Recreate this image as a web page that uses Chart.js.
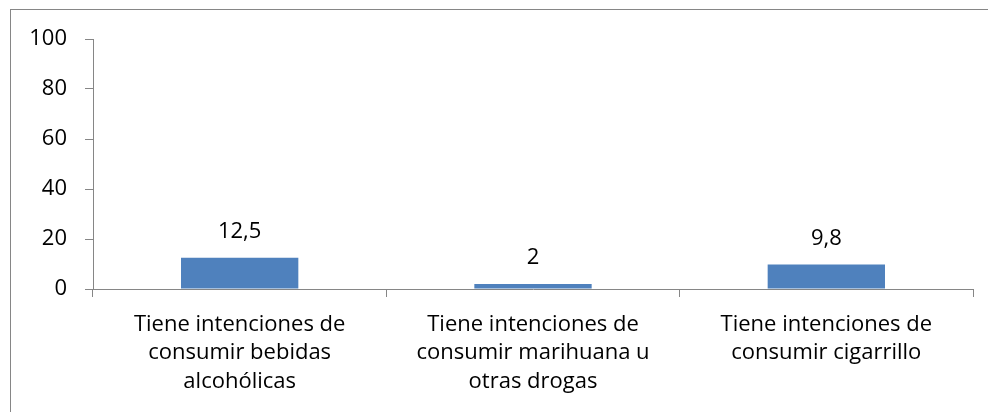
<!DOCTYPE html>
<html>
<head>
<meta charset="utf-8">
<script src="https://cdn.jsdelivr.net/npm/chart.js@4/dist/chart.umd.min.js"></script>
<style>
  html, body { margin: 0; padding: 0; background: #ffffff; }
  #wrap { position: relative; width: 988px; height: 412px; }
</style>
</head>
<body>
<div id="wrap"><canvas id="c" width="988" height="412"></canvas></div>
<script>
const categories = [
  ["Tiene intenciones de", "consumir bebidas", "alcohólicas"],
  ["Tiene intenciones de", "consumir marihuana u", "otras drogas"],
  ["Tiene intenciones de", "consumir cigarrillo"]
];
const values = [12.5, 2, 9.8];
const valueLabels = ["12,5", "2", "9,8"];
const yTicks = [0, 20, 40, 60, 80, 100];

const FONT = "'Open Sans', sans-serif";
const AXIS_COLOR = '#868686';

const outerBorder = {
  id: 'outerBorder',
  afterDraw(chart) {
    const ctx = chart.ctx;
    ctx.save();
    ctx.strokeStyle = AXIS_COLOR;
    ctx.lineWidth = 1;
    ctx.strokeRect(10.5, 9.5, 1000, 500);
    ctx.restore();
  }
};

const valueLabelPlugin = {
  id: 'valueLabels',
  afterDatasetsDraw(chart) {
    const ctx = chart.ctx;
    const meta = chart.getDatasetMeta(0);
    ctx.save();
    ctx.font = "22px " + FONT;
    ctx.fillStyle = '#000000';
    ctx.textAlign = 'center';
    ctx.textBaseline = 'alphabetic';
    meta.data.forEach((bar, i) => {
      ctx.fillText(valueLabels[i], bar.x, bar.y - 20);
    });
    ctx.restore();
  }
};

new Chart(document.getElementById('c'), {
  type: 'bar',
  data: {
    labels: categories,
    datasets: [{
      data: values,
      backgroundColor: '#4F81BD',
      borderWidth: 0,
      barPercentage: 0.4,
      categoryPercentage: 1.0
    }]
  },
  options: {
    responsive: false,
    animation: false,
    devicePixelRatio: 1,
    layout: { padding: { top: 39, right: 15, left: 0, bottom: 0 } },
    plugins: {
      legend: { display: false },
      tooltip: { enabled: false },
      title: { display: false }
    },
    scales: {
      x: {
        offset: true,
        grid: {
          offset: true,
          drawOnChartArea: false,
          drawTicks: true,
          tickLength: 8,
          color: AXIS_COLOR
        },
        border: { display: true, color: AXIS_COLOR, width: 1 },
        ticks: {
          color: '#000000',
          font: { family: FONT, size: 22, lineHeight: 1.3 },
          padding: 13,
          maxRotation: 0,
          autoSkip: false
        },
        afterFit(scale) { scale.height = 123; }
      },
      y: {
        min: 0,
        max: 100,
        afterBuildTicks(scale) { scale.ticks = yTicks.map(v => ({ value: v })); },
        grid: {
          drawOnChartArea: false,
          drawTicks: true,
          tickLength: 8,
          color: AXIS_COLOR
        },
        border: { display: true, color: AXIS_COLOR, width: 1 },
        ticks: {
          color: '#000000',
          font: { family: FONT, size: 22 },
          padding: 18
        },
        afterFit(scale) { scale.width = 93; }
      }
    }
  },
  plugins: [outerBorder, valueLabelPlugin]
});
</script>
</body>
</html>
